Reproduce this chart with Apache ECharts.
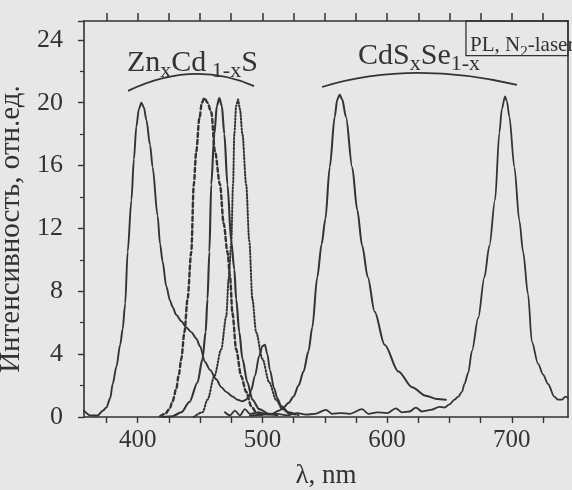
<!DOCTYPE html>
<html>
<head>
<meta charset="utf-8">
<script src="https://cdn.jsdelivr.net/npm/echarts@6/dist/echarts.min.js"></script>
<style>
  html, body { margin: 0; padding: 0; background: #e7e7e7; }
  #chart { width: 572px; height: 490px; }
</style>
</head>
<body>
<div id="chart"></div>
<script>
// спектры ФЛ, длина волны (нм) / интенсивность (отн.ед.)
var wlTicks = [375, 400, 425, 450, 475, 500, 525, 550, 575, 600, 625, 650, 675, 700, 725];
var wlLabels = [400, 500, 600, 700];

// Zn-богатый образец (сплошная), с хвостом и малым пиком ~500 нм
var znA = [[357,0.4],[362,0.1],[368,0.1],[372,0.4],[375,0.6],[378,1.2],[380,2.1],[383,3.2],[386,4.6],[388,5.6],[390,7.2],[392,10.5],[395,13.8],[397,16.4],[399,18.5],[401,19.6],[403,20],[405,19.7],[407,18.9],[410,17.3],[412,15.9],[416,12.8],[418,11],[420,9.9],[423,8.3],[426,7.4],[428,7],[431,6.5],[435,6.1],[439,5.7],[443,5.4],[447,5.0],[450,4.5],[454,3.5],[458,3.0],[463,2.4],[467,1.9],[471,1.6],[476,1.3],[480,1.1],[484,1.0],[487,1.1],[489,1.3],[491,1.7],[494,2.6],[497.5,3.9],[500,4.5],[502,4.6],[504,4.0],[506,3.0],[509.5,1.8],[512,1.2],[515,0.7],[521,0.3],[526,0.2]];
// штриховая
var znB = [[418,0.05],[422,0.2],[425.5,0.5],[428,1.0],[431,1.8],[433,2.7],[435,3.7],[437.5,5.4],[440,7.5],[443,10.5],[445,14.8],[447,16.9],[449.5,19],[451.5,20],[453.5,20.3],[456,20],[459,19.4],[462,16.9],[466,14.8],[469,12.3],[472,10.5],[474,9.0],[476,6.6],[479,4.3],[483,2.6],[487,1.6],[491,0.7],[495,0.3],[500,0.1]];
// сплошная, пик ~466 нм
var znC = [[420,0],[428,0.05],[435,0.3],[441.5,0.95],[448,2.2],[452,3.7],[454.5,5.4],[456,7.5],[457.5,10.5],[459,14.8],[461.5,18],[463.5,19.8],[465.5,20.3],[467.5,19.8],[469.5,18],[472,14.8],[475,11.2],[477.5,9.4],[479,7.5],[481.5,5.4],[484,3.7],[488,2.2],[492,1.1],[497.5,0.5],[505.5,0.2],[512,0.1]];
// пунктир, пик ~480 нм
var znD = [[445,0],[452,0.3],[456,1.1],[461.5,2.6],[467,4.3],[471,6.4],[473,8.8],[475,11],[476.5,14.8],[477.5,18],[479,19.8],[480.5,20.2],[482,19.6],[484,18],[487,14.8],[489.5,11.2],[492,7.5],[495,5.4],[500,3.7],[505.5,2.2],[511,1.1],[516,0.5],[522,0.2],[530,0.1]];
// CdS-богатый (сплошная), пик ~562 нм
var cdA = [[490,0.1],[500,0.15],[508,0.2],[513,0.4],[517,0.6],[521,0.9],[525,1.3],[529,2],[533,2.9],[537,4.2],[540,5.7],[544,8.9],[547.5,11],[550.5,12.6],[554,15.9],[558,19.1],[560,20.2],[562,20.5],[564,20.2],[567,19.1],[572,15.9],[576,13.2],[580,10.9],[584.5,8.9],[590,6.7],[598,4.6],[609,2.9],[620,1.9],[631,1.35],[640,1.15],[647,1.1]];
// CdSe-богатый (сплошная), пик ~694 нм, шумная база
var cdB = [[470,0.3],[474,0.1],[478,0.4],[482,0.1],[486,0.5],[490,0.2],[497,0.3],[505,0.15],[512,0.2],[520,0.1],[528,0.25],[535,0.15],[542,0.2],[551,0.45],[556,0.2],[563,0.25],[570,0.2],[580,0.5],[585,0.2],[592,0.3],[600,0.25],[607,0.55],[612,0.3],[618,0.35],[623,0.6],[628,0.35],[635,0.45],[642,0.65],[646,0.6],[650,0.8],[654,1.1],[657,1.3],[660,1.6],[662,2.1],[665,2.8],[668,4.2],[673,6.3],[678,8.9],[682,10.9],[686.5,13.8],[690,18.1],[692,19.6],[694.5,20.4],[696,20.1],[698,19.1],[702,15.9],[706,12.5],[709,10.5],[713,7.8],[716,4.8],[721,3.4],[725,2.7],[729,2.1],[734,1.3],[737,1.1],[740,1.1],[743,1.3],[745,1.2]];

var ink = '#333333';
var serif = 'Liberation Serif';

var myChart = echarts.init(document.getElementById('chart'));

function line(data, type, width) {
    return {
        type: 'line',
        data: data,
        showSymbol: false,
        smooth: 0.3,
        smoothMonotone: 'x',
        lineStyle: { color: ink, width: width, type: type, cap: 'round' },
        silent: true
    };
}

option = {
    backgroundColor: '#e7e7e7',
    animation: false,
    grid: { left: 84, right: 4, top: 21, bottom: 73, outerBoundsMode: 'none' },
    xAxis: [{
        type: 'value',
        position: 'bottom',
        min: 357,
        max: 745,
        name: 'λ, nm',
        nameLocation: 'middle',
        nameGap: 45,
        nameTextStyle: { fontFamily: serif, fontSize: 27, color: ink },
        axisLine: { lineStyle: { color: ink, width: 1.6 } },
        axisTick: { customValues: wlTicks, length: 6, lineStyle: { color: ink, width: 1.4 } },
        axisLabel: { customValues: wlLabels, fontFamily: serif, fontSize: 25, color: ink, margin: 11 },
        splitLine: { show: false }
    }, {
        type: 'value',
        position: 'top',
        min: 357,
        max: 745,
        axisLine: { show: true, onZero: false, lineStyle: { color: ink, width: 1.6 } },
        axisTick: { show: true, inside: false, customValues: wlTicks, length: 8, lineStyle: { color: ink, width: 1.5 } },
        axisLabel: { show: false, customValues: wlTicks },
        splitLine: { show: false }
    }],
    yAxis: [{
        type: 'value',
        position: 'left',
        min: 0,
        max: 25.2,
        interval: 4,
        name: 'Интенсивность, отн.ед.',
        nameLocation: 'middle',
        nameRotate: 90,
        nameGap: 46,
        nameTextStyle: { fontFamily: serif, fontSize: 29, color: ink, padding: [0, 20, 0, 0] },
        axisLine: { show: true, lineStyle: { color: ink, width: 1.6 } },
        axisTick: { show: true, length: 6, lineStyle: { color: ink, width: 1.4 } },
        minorTick: { show: true, splitNumber: 2, length: 4, lineStyle: { color: ink, width: 1.2 } },
        axisLabel: { fontFamily: serif, fontSize: 26, color: ink, margin: 21, showMaxLabel: false },
        splitLine: { show: false }
    }, {
        type: 'value',
        position: 'right',
        min: 0,
        max: 25.2,
        axisLine: { show: true, onZero: false, lineStyle: { color: ink, width: 1.6 } },
        axisTick: { show: false },
        axisLabel: { show: false },
        splitLine: { show: false }
    }],
    series: [
        line(znA, 'solid', 1.9),
        line(znB, [4, 3], 2.4),
        line(znC, 'solid', 2.1),
        line(znD, [1.3, 2], 2.0),
        line(cdA, 'solid', 2.0),
        line(cdB, 'solid', 1.8)
    ]
};

myChart.setOption(option);

// подписи и дуги над группами спектров, в координатах осей
function px(p) {
    return myChart.convertToPixel({ xAxisIndex: 0, yAxisIndex: 0 }, p);
}
function arc(a, c, b) {
    var p1 = px(a), cp = px(c), p2 = px(b);
    return {
        type: 'bezierCurve',
        silent: true,
        shape: { x1: p1[0], y1: p1[1], cpx1: cp[0], cpy1: cp[1], x2: p2[0], y2: p2[1] },
        style: { stroke: ink, lineWidth: 1.8, fill: 'none' }
    };
}
var subRich = {
    m: { fontFamily: serif, fontSize: 30, lineHeight: 30, verticalAlign: 'top', fill: ink },
    s: { fontFamily: serif, fontSize: 22, lineHeight: 22, verticalAlign: 'top', padding: [12, 0, 0, 0], fill: ink }
};
function label(pos, text) {
    var p = px(pos);
    return {
        type: 'text',
        silent: true,
        x: p[0],
        y: p[1],
        style: { text: text, rich: subRich, align: 'left', verticalAlign: 'top' }
    };
}

var boxTL = px([663.2, 25.2]);
var boxBR = px([745, 23.0]);
var boxText = px([666.5, 24.3]);

myChart.setOption({
    graphic: [
        arc([392.3, 20.75], [444.4, 22.75], [493.3, 21.06]),
        arc([547.8, 21.0], [618.7, 22.72], [704.1, 21.13]),
        label([391.5, 23.45], '{m|Zn}{s|x}{m|Cd}{s| 1-x}{m|S}'),
        label([576.7, 23.9], '{m|CdS}{s|x}{m|Se}{s|1-x}'),
        {
            type: 'rect',
            silent: true,
            shape: { x: boxTL[0], y: boxTL[1], width: boxBR[0] - boxTL[0], height: boxBR[1] - boxTL[1] },
            style: { fill: '#e7e7e7', stroke: ink, lineWidth: 1.3 }
        },
        {
            type: 'text',
            silent: true,
            x: boxText[0],
            y: boxText[1],
            style: {
                text: '{m|PL, N}{s|2}{m|-laser}',
                align: 'left',
                verticalAlign: 'top',
                rich: {
                    m: { fontFamily: serif, fontSize: 21, lineHeight: 21, verticalAlign: 'top', fill: ink },
                    s: { fontFamily: serif, fontSize: 15, lineHeight: 15, verticalAlign: 'top', padding: [9, 0, 0, 0], fill: ink }
                }
            }
        }
    ]
});
</script>
</body>
</html>
